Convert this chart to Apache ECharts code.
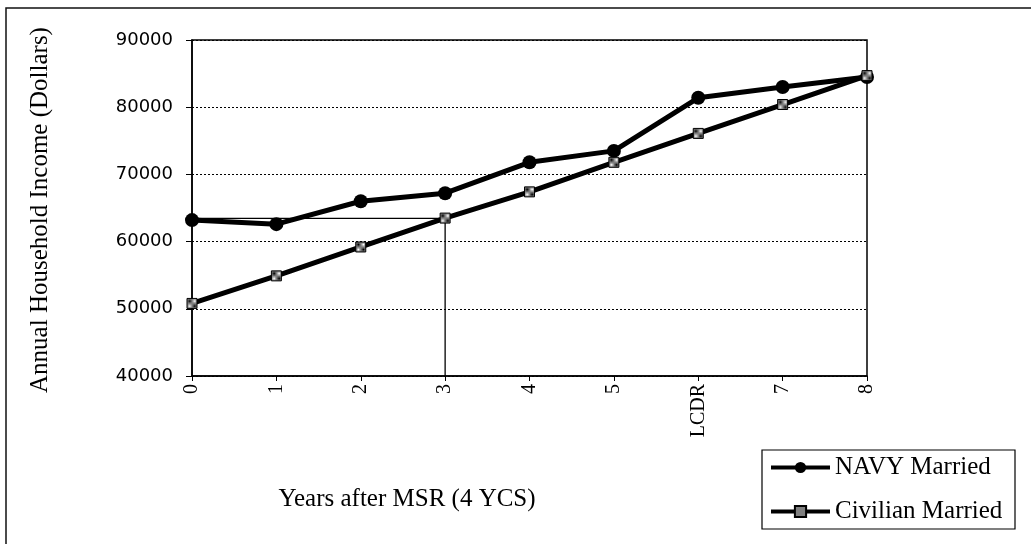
<!DOCTYPE html>
<html>
<head>
<meta charset="utf-8">
<script src="https://cdn.jsdelivr.net/npm/echarts@6/dist/echarts.min.js"></script>
<style>
html,body{margin:0;padding:0;background:#fff;}
#chart{width:1031px;height:544px;}
</style>
</head>
<body>
<div id="chart"></div>
<script>
const categories = ['0', '1', '2', '3', '4', '5', 'LCDR', '7', '8'];
const navyMarried = [63200, 62600, 66000, 67200, 71800, 73500, 81400, 83000, 84500];
const civilianMarried = [50800, 54900, 59200, 63500, 67400, 71800, 76100, 80400, 84700];
const referenceValue = 63450;
const referenceCategoryIndex = 3;
const yMin = 40000, yMax = 90000, yStep = 10000;
const xTitle = 'Years after MSR (4 YCS)';
const yTitle = 'Annual Household Income (Dollars)';

const patternCanvas = document.createElement('canvas');
patternCanvas.width = 2; patternCanvas.height = 2;
const pctx = patternCanvas.getContext('2d');
pctx.fillStyle = '#fff'; pctx.fillRect(0, 0, 2, 2);
pctx.fillStyle = '#000'; pctx.fillRect(0, 0, 1, 1); pctx.fillRect(1, 1, 1, 1);

const serif = '"Liberation Serif", "Times New Roman", serif';
const chart = echarts.init(document.getElementById('chart'), null, {renderer: 'canvas'});
chart.setOption({
  animation: false,
  backgroundColor: '#fff',
  grid: {left: 192, right: 164, top: 40, bottom: 168, show: true, borderColor: '#000', borderWidth: 1.5, backgroundColor: 'transparent'},
  xAxis: {
    type: 'category', data: categories, boundaryGap: false,
    axisLine: {lineStyle: {color: '#000', width: 1.5}},
    axisTick: {show: true, length: 5, lineStyle: {color: '#000'}, alignWithLabel: true},
    axisLabel: {rotate: 90, margin: 8, color: '#000', fontFamily: serif, fontSize: 20},
    splitLine: {show: false}
  },
  yAxis: {
    type: 'value', min: yMin, max: yMax, interval: yStep,
    axisLine: {show: true, lineStyle: {color: '#000', width: 1.5}},
    axisTick: {show: true, length: 6, lineStyle: {color: '#000'}},
    axisLabel: {margin: 19, color: '#000', fontFamily: '"DejaVu Sans", sans-serif', fontSize: 18, formatter: v => String(v)},
    splitLine: {show: true, lineStyle: {color: '#000', type: [2, 2], width: 1}}
  },
  legend: {
    orient: 'vertical', left: 769, top: 455, padding: 0,
    itemWidth: 59, itemHeight: 14, itemGap: 19,
    data: ['NAVY Married', 'Civilian Married'],
    lineStyle: {width: 4},
    textStyle: {fontFamily: serif, fontSize: 25, color: '#000', lineHeight: 25}
  },
  series: [
    {
      name: 'reference', type: 'line', silent: true, symbol: 'none',
      data: [[0, referenceValue], [referenceCategoryIndex, referenceValue], [referenceCategoryIndex, yMin]],
      lineStyle: {color: '#000', width: 1.3}, z: 1
    },
    {
      name: 'NAVY Married', type: 'line', data: navyMarried,
      symbol: 'circle', symbolSize: 14,
      lineStyle: {color: '#000', width: 5},
      itemStyle: {color: '#000'}, z: 3
    },
    {
      name: 'Civilian Married', type: 'line', data: civilianMarried,
      symbol: 'rect', symbolSize: 10,
      lineStyle: {color: '#000', width: 5},
      itemStyle: {color: {image: patternCanvas, repeat: 'repeat'}, borderColor: '#000', borderWidth: 1}, z: 4
    }
  ],
  graphic: [
    {type: 'rect', shape: {x: 6, y: 8, width: 1040, height: 560}, style: {fill: 'none', stroke: '#111', lineWidth: 1.5}, silent: true},
    {type: 'rect', shape: {x: 762, y: 450, width: 253, height: 79}, style: {fill: 'none', stroke: '#000', lineWidth: 1.2}, silent: true},
    {type: 'text', x: 407, y: 499, style: {text: xTitle, font: '25px ' + serif, fill: '#000', textAlign: 'center', textVerticalAlign: 'middle'}},
    {type: 'text', x: 40, y: 210, rotation: Math.PI / 2, style: {text: yTitle, font: '25px ' + serif, fill: '#000', textAlign: 'center', textVerticalAlign: 'middle'}}
  ]
});
</script>
</body>
</html>
